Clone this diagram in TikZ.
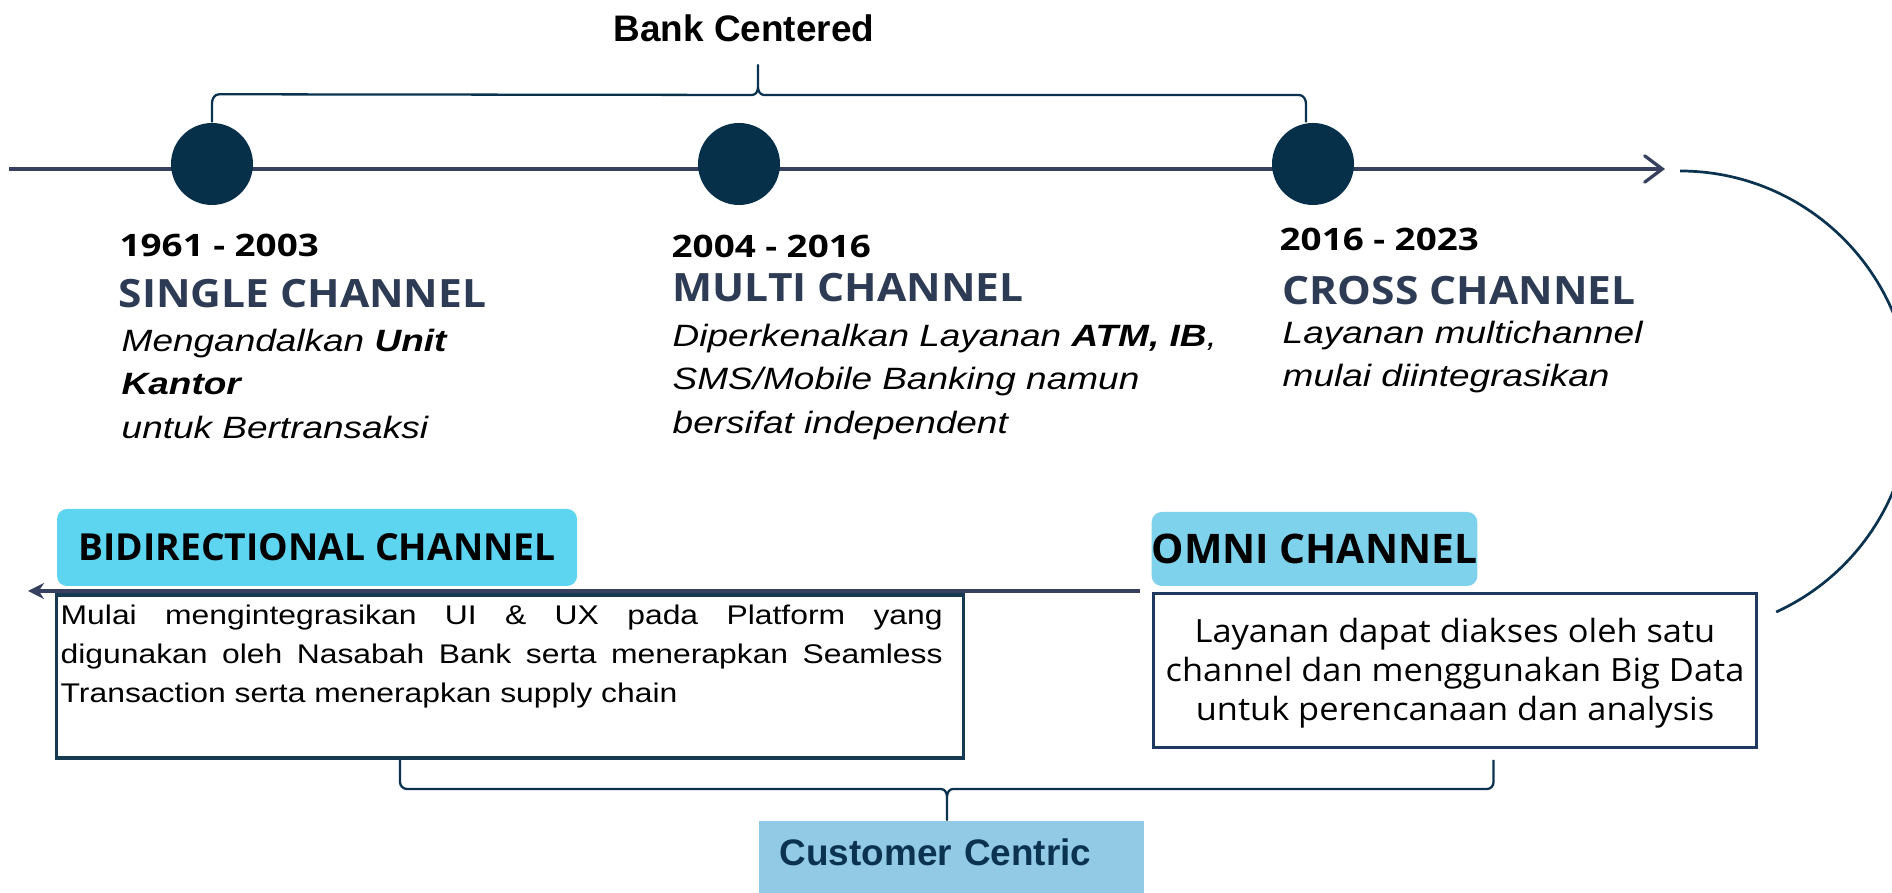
\documentclass[tikz,border=0pt]{standalone}
\usepackage{fontspec}
\usepackage{tikz}
\usetikzlibrary{arrows.meta,positioning}
\setmainfont{Liberation Sans}
\newfontfamily\osans{Open Sans}
\newfontfamily\osansdesc[FakeStretch=1.075]{Open Sans}
\newfontfamily\osanswide[FakeStretch=1.19]{Open Sans}
\newfontfamily\osanstitle[FakeStretch=1.09]{Open Sans}
\newfontfamily\descfont[FakeStretch=1.2]{Liberation Sans}
\newfontfamily\bidirfont[FakeStretch=1.18]{Liberation Sans}
\definecolor{navy}{RGB}{6,48,73}
\definecolor{slateline}{RGB}{55,65,95}
\definecolor{slatetext}{RGB}{46,59,85}
\definecolor{bidircyan}{RGB}{93,213,241}
\definecolor{omnicyan}{RGB}{127,210,236}
\definecolor{custblue}{RGB}{146,202,230}
\definecolor{custtext}{RGB}{11,51,80}
\definecolor{bidirframe}{RGB}{22,58,82}
\definecolor{omniframe}{RGB}{31,56,96}

\tikzset{
  eradot/.style={circle,fill=navy,minimum size=0.82cm,inner sep=0pt},
  yearlbl/.style={anchor=base west,inner sep=0pt,font=\osanswide\bfseries\fontsize{8.8}{10}\selectfont},
  titlelbl/.style={anchor=base west,inner sep=0pt,text=slatetext,font=\osanstitle\bfseries\fontsize{11.1}{12}\selectfont},
  desclbl/.style={anchor=north west,inner sep=0pt,align=left,font=\descfont\itshape\fontsize{8.77}{12.5}\selectfont},
  bracepath/.style={draw=custtext,line width=0.65pt,line join=round},
  chanlbl/.style={rounded corners=0.1cm,inner sep=0pt,font=\osans\bfseries},
}

\begin{document}
\begin{tikzpicture}
  \useasboundingbox (0,0) rectangle (18.92,8.93);
  % timeline
  \coordinate (tlstart) at (0.09,7.24);
  \coordinate (tlend) at (16.65,7.24);
  \draw[slateline,line width=0.94pt,-{Straight Barb[length=5pt,width=7.5pt,line cap=round]}] (tlstart) -- (tlend);
  \node[eradot] (c1) at (2.12,7.29) {};
  \node[eradot] (c2) at (7.39,7.29) {};
  \node[eradot] (c3) at (13.13,7.29) {};
  % bank centered brace
  \draw[bracepath] (c1.north) -- ++(0,0.19) to[out=90,in=180] ++(0.07,0.09)
    -- (7.52,7.98) to[out=0,in=-90] (7.58,8.06) -- (7.58,8.28) -- (7.58,8.06)
    to[out=-90,in=180] (7.64,7.98) -- (12.99,7.98) to[out=0,in=90] ++(0.07,-0.09)
    -- ([xshift=-0.07cm]c3.north);
  \node[anchor=base,inner sep=0pt,font=\bfseries\fontsize{10.5}{12}\selectfont] (bank) at (7.44,8.51) {Bank Centered};
  % eras
  \node[yearlbl] (y1) at (1.19,6.36) {1961 - 2003};
  \node[titlelbl] (t1) at (1.18,5.85) {SINGLE CHANNEL};
  \node[desclbl] (d1) at (1.21,5.65) {Mengandalkan \textbf{Unit}\\\textbf{Kantor}\\untuk Bertransaksi};
  \node[yearlbl] (y2) at (6.71,6.35) {2004 - 2016};
  \node[titlelbl] (t2) at (6.72,5.91) {MULTI CHANNEL};
  \node[desclbl] (d2) at (6.72,5.70) {Diperkenalkan Layanan \textbf{ATM, IB},\\SMS/Mobile Banking namun\\bersifat independent};
  \node[yearlbl] (y3) at (12.79,6.42) {2016 - 2023};
  \node[titlelbl] (t3) at (12.82,5.88) {CROSS CHANNEL};
  \node[desclbl] (d3) at (12.82,5.73) {Layanan multichannel\\mulai diintegrasikan};
  % turn
  \coordinate (arctop) at (16.80,7.22);
  \draw[custtext,line width=0.77pt] (arctop) arc[start angle=90,end angle=-65.4,radius=2.31];
  % lower row
  \coordinate (omnistart) at (11.40,3.02);
  \coordinate (leftend) at (0.28,3.02);
  \draw[slateline,line width=0.94pt,-{Stealth[length=0.16cm,width=0.16cm]}] (omnistart) -- (leftend);
  \node[chanlbl,fill=bidircyan,minimum width=5.20cm,minimum height=0.77cm,font=\osans\bfseries\fontsize{10.6}{12}\selectfont] (bidirlbl) at (3.17,3.455) {BIDIRECTIONAL CHANNEL};
  \node[draw=bidirframe,line width=0.94pt,fill=white,anchor=north west,minimum width=9.07cm,minimum height=1.63cm,inner sep=0pt] (bidirbox) at (0.546,2.995) {};
  \node[anchor=north west,inner sep=0pt,text width=8.82cm,align=justify,font=\bidirfont\fontsize{7.68}{11.1}\selectfont] (bidirtxt) at (0.60,2.883)
    {Mulai mengintegrasikan UI \& UX pada Platform yang\linebreak digunakan oleh Nasabah Bank serta menerapkan Seamless\linebreak Transaction serta menerapkan supply chain};
  \node[chanlbl,fill=omnicyan,minimum width=3.25cm,minimum height=0.74cm,font=\osans\bfseries\fontsize{11.6}{13}\selectfont] (omnilbl) at (13.145,3.44) {OMNI CHANNEL};
  \node[draw=omniframe,line width=0.94pt,minimum width=6.03cm,minimum height=1.54cm,inner sep=0pt,align=center,font=\osansdesc\fontsize{9.1}{11.1}\selectfont] (omnibox) at (14.55,2.225)
    {\rule{0pt}{0.30cm}Layanan dapat diakses oleh satu\\channel dan menggunakan Big Data\\untuk perencanaan dan analysis};
  % customer centric brace
  \draw[bracepath] (4.00,1.33) -- (4.00,1.11) to[out=-90,in=180] (4.07,1.04)
    -- (9.41,1.04) to[out=0,in=90] (9.47,0.96) -- (9.47,0.73) -- (9.47,0.96)
    to[out=90,in=180] (9.53,1.04) -- (14.87,1.04) to[out=0,in=-90] (14.935,1.11) -- (14.935,1.33);
  \node[anchor=north west,fill=custblue,text=custtext,inner xsep=0.21cm,inner ysep=0.18cm,text width=3.43cm,text height=0.27cm,text depth=0.10cm,align=left,font=\bfseries\fontsize{10.5}{12}\selectfont] (cust) at (7.58,0.73) {Customer Centric};
\end{tikzpicture}
\end{document}
